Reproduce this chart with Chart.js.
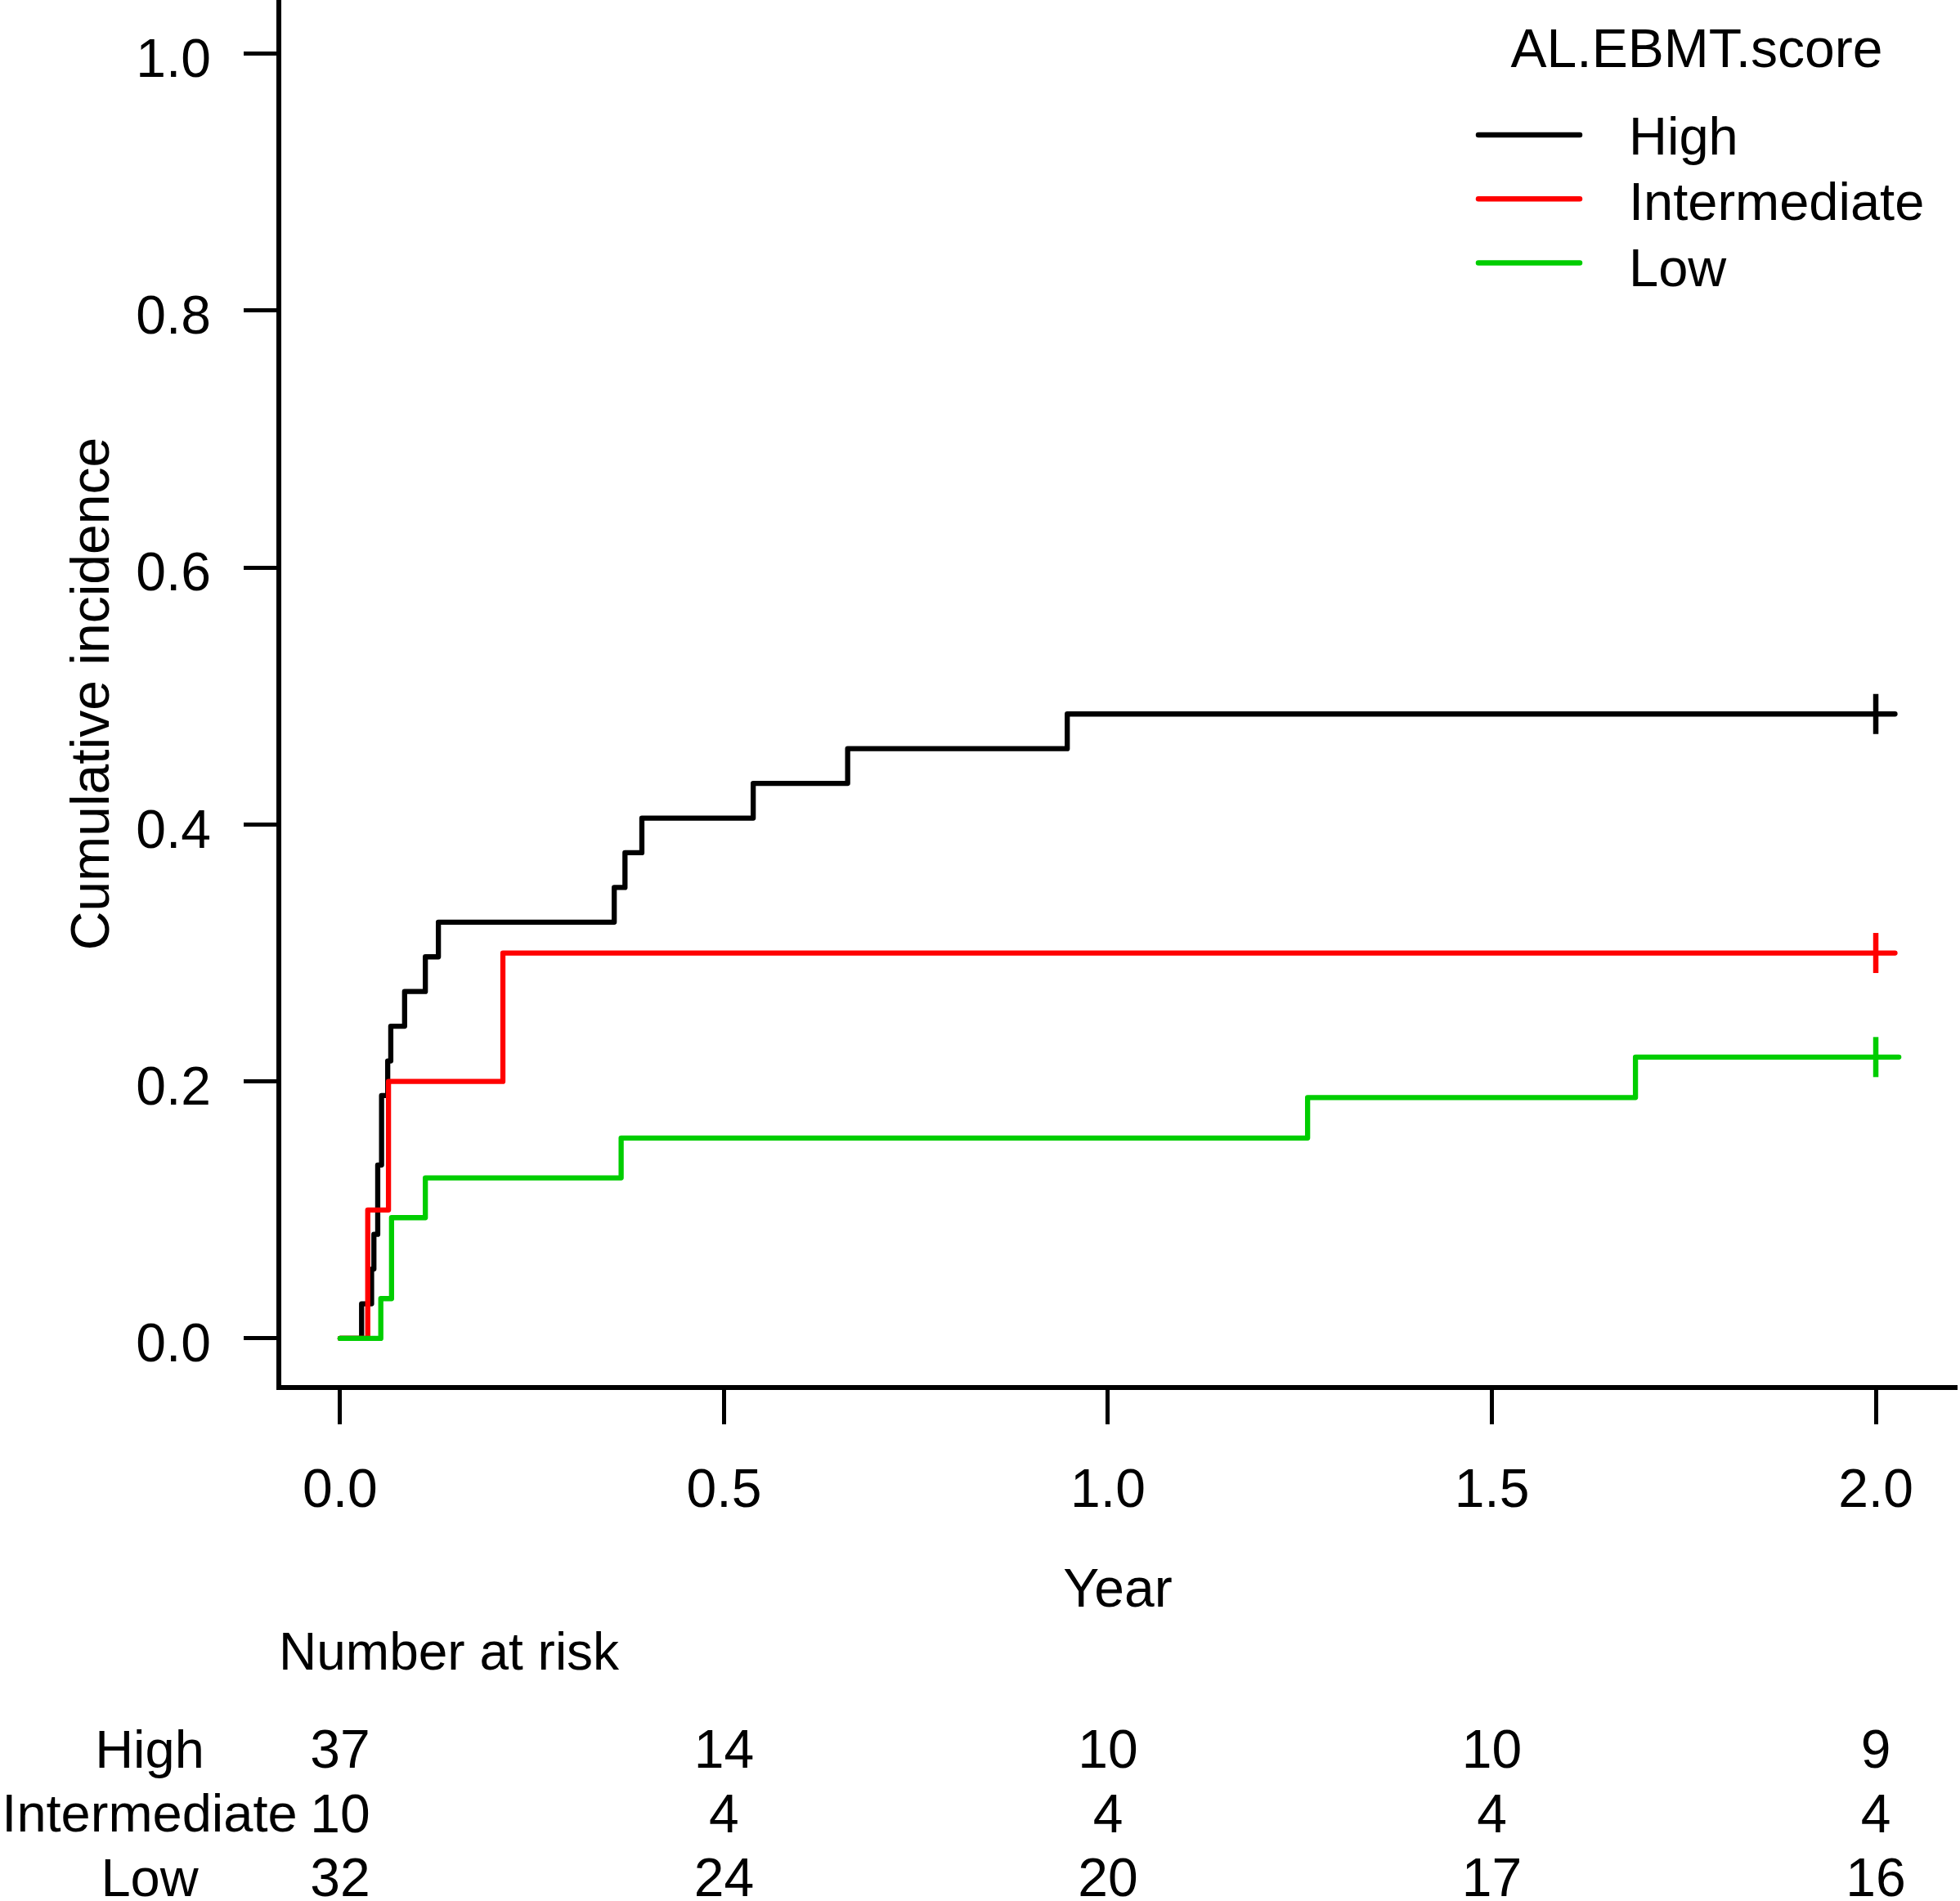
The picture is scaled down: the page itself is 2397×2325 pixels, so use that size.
<!DOCTYPE html>
<html>
<head>
<meta charset="utf-8">
<script src="https://cdn.jsdelivr.net/npm/chart.js@4.4.1/dist/chart.umd.min.js"></script>
<style>
  html, body { margin: 0; padding: 0; background: #fff; }
  #wrap { width: 2397px; height: 2325px; }
</style>
</head>
<body>
<div id="wrap"><canvas id="chart" width="2397" height="2325"></canvas></div>
<script>
const FONT = "'Liberation Sans', Arial, Helvetica, sans-serif";

const groups = ["High", "Intermediate", "Low"];
const groupColors = ["#000000", "#FF0000", "#00CD00"];

// event times (years) and cumulative incidence after each step
const highTimes = [0, 0.028, 0.041, 0.044, 0.049, 0.054, 0.062, 0.066, 0.084, 0.111, 0.128, 0.357, 0.371, 0.393, 0.538, 0.661, 0.947, 2.025];
const highCif = [0, 0.027, 0.054, 0.081, 0.135, 0.189, 0.216, 0.243, 0.270, 0.297, 0.324, 0.351, 0.378, 0.405, 0.432, 0.459, 0.486, 0.486];
const intTimes = [0, 0.036, 0.063, 0.212, 2.025];
const intCif = [0, 0.1, 0.2, 0.3, 0.3];
const lowTimes = [0, 0.053, 0.067, 0.111, 0.366, 1.260, 1.687, 2.03];
const lowCif = [0, 0.031, 0.094, 0.125, 0.156, 0.1875, 0.219, 0.219];

// censoring marks (one per group)
const censorTimes = [2.0, 2.0, 2.0];
const censorCif = [0.486, 0.3, 0.219];

const xTicks = [0, 0.5, 1.0, 1.5, 2.0];
const yTicks = [0, 0.2, 0.4, 0.6, 0.8, 1.0];

// number at risk table
const riskTimes = [0, 0.5, 1.0, 1.5, 2.0];
const riskHigh = [37, 14, 10, 10, 9];
const riskInt = [10, 4, 4, 4, 4];
const riskLow = [32, 24, 20, 17, 16];
const riskRows = [riskHigh, riskInt, riskLow];

Chart.defaults.font.family = FONT;
Chart.defaults.color = "#000";

const toPoints = (xs, ys) => xs.map((t, i) => ({ x: t, y: ys[i] }));

function curve(label, xs, ys, color, order) {
  return {
    label,
    data: toPoints(xs, ys),
    borderColor: color,
    borderWidth: 6.3,
    stepped: "before",
    pointRadius: 0,
    fill: false,
    borderJoinStyle: "round",
    borderCapStyle: "round",
    order,
  };
}

function censor(i) {
  return {
    label: groups[i] + " censored",
    data: [{ x: censorTimes[i], y: censorCif[i] }],
    showLine: false,
    pointStyle: "line",
    pointRotation: 90,
    pointRadius: 24.5,
    pointBorderWidth: 6.5,
    pointBorderColor: groupColors[i],
    pointBackgroundColor: groupColors[i],
    order: 0,
  };
}

// legend and number-at-risk table
const annotations = {
  id: "annotations",
  afterDraw(chart) {
    const ctx = chart.ctx;
    const xs = chart.scales.x;
    ctx.save();
    ctx.fillStyle = "#000";
    ctx.textBaseline = "middle";

    ctx.font = "66px " + FONT;
    ctx.textAlign = "center";
    ctx.fillText("AL.EBMT.score", 2075, 63.5);
    ctx.font = "65px " + FONT;
    groups.forEach((g, i) => {
      const y = 165 + i * 78.3;
      ctx.strokeStyle = groupColors[i];
      ctx.lineWidth = 6.5;
      ctx.lineCap = "round";
      ctx.beginPath();
      ctx.moveTo(1808, y);
      ctx.lineTo(1932, y);
      ctx.stroke();
      ctx.textAlign = "left";
      ctx.fillText(g, 1992, 171 + i * 80.3);
    });

    ctx.font = "64px " + FONT;
    ctx.textAlign = "left";
    ctx.fillText("Number at risk", chart.chartArea.left, 2024);

    riskRows.forEach((row, r) => {
      const y = 2144 + r * 78.3;
      ctx.font = "65px " + FONT;
      ctx.textAlign = "center";
      const w = ctx.measureText(groups[r]).width;
      ctx.fillText(groups[r], Math.max(183, w / 2 - 6), y);
      ctx.font = "66px " + FONT;
      row.forEach((n, j) => {
        ctx.fillText(String(n), xs.getPixelForValue(riskTimes[j]), y);
      });
    });
    ctx.restore();
  },
};

new Chart(document.getElementById("chart"), {
  type: "line",
  data: {
    datasets: [
      curve("High", highTimes, highCif, groupColors[0], 3),
      curve("Intermediate", intTimes, intCif, groupColors[1], 2),
      curve("Low", lowTimes, lowCif, groupColors[2], 1),
      censor(0), censor(1), censor(2),
    ],
  },
  options: {
    responsive: false,
    animation: false,
    devicePixelRatio: 1,
    layout: { autoPadding: false, padding: { left: 0, top: 0, right: 4, bottom: 0 } },
    plugins: { legend: { display: false }, tooltip: { enabled: false } },
    scales: {
      x: {
        type: "linear",
        min: -0.0798,
        max: 2.1054,
        afterBuildTicks: (s) => { s.ticks = xTicks.map((v) => ({ value: v })); },
        afterFit: (s) => {
          s.height = 628;
          s.paddingLeft = 0; s.paddingRight = 0; s.paddingTop = 0; s.paddingBottom = 0;
        },
        grid: { drawOnChartArea: false, drawTicks: true, tickLength: 45, tickWidth: 5, tickColor: "#000" },
        border: { display: true, color: "#000", width: 6 },
        ticks: { font: { size: 66 }, color: "#000", padding: 43, maxRotation: 0, autoSkip: false, callback: (v) => v.toFixed(1) },
        title: { display: true, text: "Year", font: { size: 66 }, color: "#000", padding: { top: 0, bottom: 339 } },
      },
      y: {
        type: "linear",
        min: -0.0382,
        max: 1.0417,
        afterBuildTicks: (s) => { s.ticks = yTicks.map((v) => ({ value: v })); },
        afterFit: (s) => {
          s.width = 341;
          s.paddingLeft = 0; s.paddingRight = 0; s.paddingTop = 0; s.paddingBottom = 0;
        },
        grid: { drawOnChartArea: false, drawTicks: true, tickLength: 43, tickWidth: 5, tickColor: "#000" },
        border: { display: true, color: "#000", width: 6 },
        ticks: { font: { size: 66 }, color: "#000", padding: 40, labelOffset: 10, autoSkip: false, callback: (v) => v.toFixed(1) },
        title: { display: true, text: "Cumulative incidence", font: { size: 66 }, color: "#000", padding: { top: 75, bottom: 0 } },
      },
    },
  },
  plugins: [annotations],
});
</script>
</body>
</html>
